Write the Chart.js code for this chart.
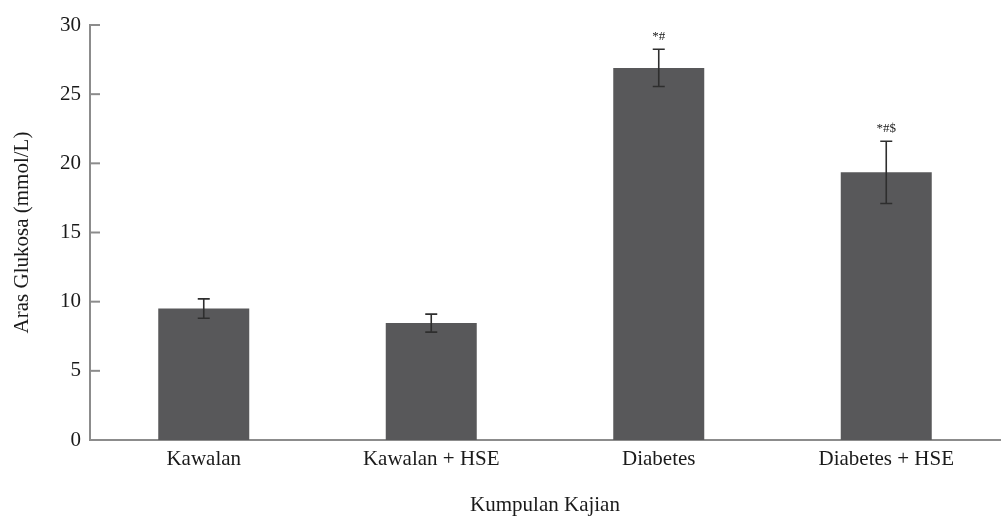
<!DOCTYPE html>
<html>
<head>
<meta charset="utf-8">
<script src="https://cdn.jsdelivr.net/npm/chart.js@4.4.0/dist/chart.umd.min.js"></script>
<style>
  html, body { margin: 0; padding: 0; background: #fff; }
  #wrap { width: 1008px; height: 518px; }
</style>
</head>
<body>
<div id="wrap"><canvas id="myChart"></canvas></div>
<script>
const kumpulan = ['Kawalan', 'Kawalan + HSE', 'Diabetes', 'Diabetes + HSE'];
const purata = [9.5, 8.45, 26.9, 19.35];
const ralat = [0.7, 0.65, 1.35, 2.25];
const tanda = ['', '', '*#', '*#$'];
const yTicks = [0, 5, 10, 15, 20, 25, 30];

const serif = 'Liberation Serif, Times New Roman, serif';
const axisColor = '#8c8c8c';

// error bars, significance marks and inward tick marks
const ralatPlugin = {
    id: 'ralat',
    afterDatasetsDraw(chart) {
        const ctx = chart.ctx;
        const x = chart.scales.x;
        const y = chart.scales.y;
        ctx.save();

        ctx.strokeStyle = axisColor;
        ctx.lineWidth = 2;
        yTicks.forEach(v => {
            const py = y.getPixelForValue(v);
            ctx.beginPath();
            ctx.moveTo(x.left, py);
            ctx.lineTo(x.left + 10, py);
            ctx.stroke();
        });

        ctx.strokeStyle = '#2e2e2e';
        ctx.lineWidth = 1.6;
        ctx.fillStyle = '#222';
        ctx.font = '13px ' + serif;
        ctx.textAlign = 'center';
        ctx.textBaseline = 'bottom';
        purata.forEach((v, i) => {
            const px = x.getPixelForValue(i);
            const top = y.getPixelForValue(v + ralat[i]);
            const bot = y.getPixelForValue(v - ralat[i]);
            ctx.beginPath();
            ctx.moveTo(px, top);
            ctx.lineTo(px, bot);
            ctx.moveTo(px - 6, top);
            ctx.lineTo(px + 6, top);
            ctx.moveTo(px - 6, bot);
            ctx.lineTo(px + 6, bot);
            ctx.stroke();
            if (tanda[i]) {
                ctx.fillText(tanda[i], px, top - 6);
            }
        });
        ctx.restore();
    }
};

const ctx = document.getElementById('myChart').getContext('2d');
const myChart = new Chart(ctx, {
    type: 'bar',
    data: {
        labels: kumpulan,
        datasets: [{
            data: purata,
            backgroundColor: '#58585a',
            borderWidth: 0,
            barPercentage: 0.4,
            categoryPercentage: 1.0
        }]
    },
    options: {
        responsive: true,
        maintainAspectRatio: false,
        animation: false,
        layout: { padding: { top: 25, right: 8, left: 0, bottom: 0 } },
        plugins: {
            legend: { display: false },
            tooltip: { enabled: false }
        },
        scales: {
            x: {
                grid: { display: false, drawTicks: false },
                border: { color: axisColor, width: 2 },
                ticks: {
                    color: '#1a1a1a',
                    font: { family: serif, size: 21 },
                    padding: 7,
                    maxRotation: 0
                },
                title: {
                    display: true,
                    text: 'Kumpulan Kajian',
                    color: '#1a1a1a',
                    font: { family: serif, size: 21 },
                    padding: { top: 20, bottom: 0 }
                },
                afterFit(scale) { scale.height = 78; }
            },
            y: {
                min: 0,
                max: 30,
                grid: { display: false, drawTicks: false },
                border: { color: axisColor, width: 2 },
                ticks: {
                    stepSize: 5,
                    color: '#1a1a1a',
                    font: { family: serif, size: 21 },
                    padding: 9
                },
                title: {
                    display: true,
                    text: 'Aras Glukosa (mmol/L)',
                    color: '#1a1a1a',
                    font: { family: serif, size: 21 },
                    padding: { top: 10, bottom: 0 }
                },
                afterFit(scale) { scale.width = 90; }
            }
        }
    },
    plugins: [ralatPlugin]
});
</script>
</body>
</html>
